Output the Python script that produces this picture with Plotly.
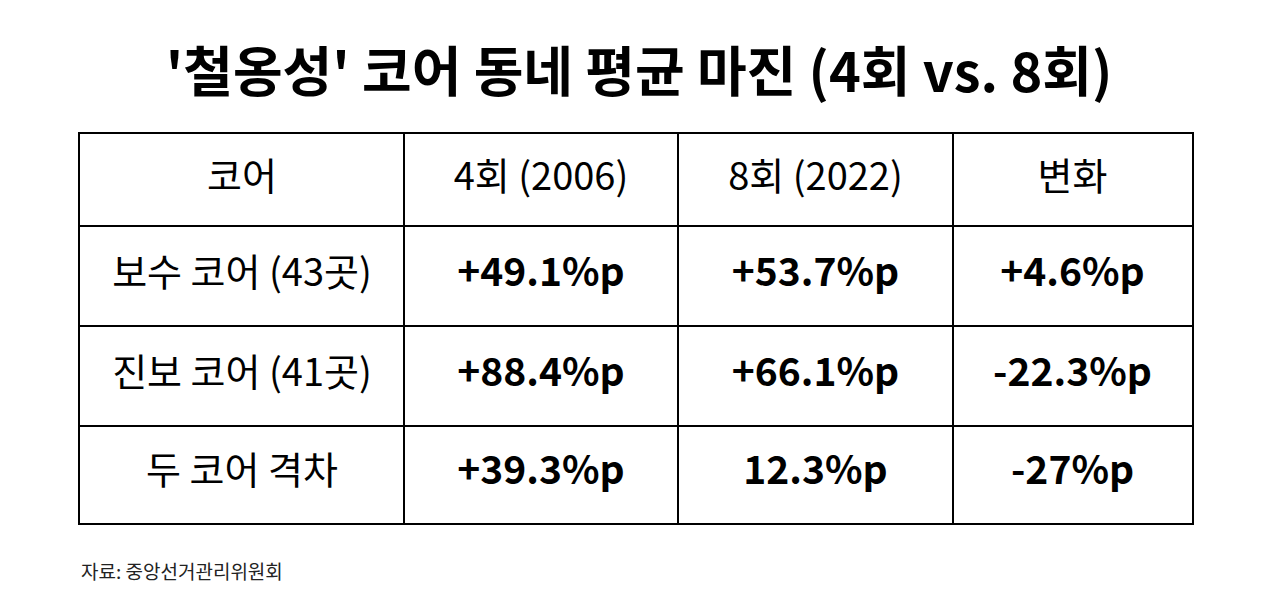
import plotly.graph_objects as go

# table contents
header = ["코어", "4회 (2006)", "8회 (2022)", "변화"]
row_labels = ["보수 코어 (43곳)", "진보 코어 (41곳)", "두 코어 격차"]
margin_2006 = ["+49.1%p", "+88.4%p", "+39.3%p"]
margin_2022 = ["+53.7%p", "+66.1%p", "12.3%p"]
change = ["+4.6%p", "-22.3%p", "-27%p"]

title = "'철옹성' 코어 동네 평균 마진 (4회 vs. 8회)"
source = "자료: 중앙선거관리위원회"

font = "Noto Sans CJK KR"

# cell geometry (layout only, in table units)
col_widths = [324, 274, 275, 239]
row_heights = [92, 100, 100, 97]   # header + 3 rows

col_edges = [0]
for w in col_widths:
    col_edges.append(col_edges[-1] + w)
row_edges = [0]
for h in row_heights:
    row_edges.append(row_edges[-1] + h)
col_mid = [(col_edges[i] + col_edges[i + 1]) / 2 for i in range(len(col_widths))]
row_mid = [(row_edges[i] + row_edges[i + 1]) / 2 for i in range(len(row_heights))]

# regular text: header row + first column
reg_x, reg_y, reg_t = [], [], []
for j, h in enumerate(header):
    reg_x.append(col_mid[j])
    reg_y.append(row_mid[0])
    reg_t.append(h)
for i, lab in enumerate(row_labels):
    reg_x.append(col_mid[0])
    reg_y.append(row_mid[i + 1])
    reg_t.append(lab)

# bold text: values
bold_x, bold_y, bold_t = [], [], []
for j, col in enumerate([margin_2006, margin_2022, change]):
    for i, v in enumerate(col):
        bold_x.append(col_mid[j + 1])
        bold_y.append(row_mid[i + 1])
        bold_t.append("<b>" + v + "</b>")

fig = go.Figure()

fig.add_trace(go.Scatter(
    x=reg_x, y=reg_y, text=reg_t,
    mode="text", textposition="middle center",
    textfont=dict(family=font, size=38, color="black"),
    hoverinfo="skip", showlegend=False
))
fig.add_trace(go.Scatter(
    x=bold_x, y=bold_y, text=bold_t,
    mode="text", textposition="middle center",
    textfont=dict(family=font, size=39, color="black"),
    hoverinfo="skip", showlegend=False
))

# the page has an 8px body margin, so positions are shifted by 8
fig.update_layout(
    width=1279,
    height=609,
    margin=dict(l=72, r=95, t=126, b=94),
    paper_bgcolor="white",
    plot_bgcolor="white",
    title=dict(
        text="<b>" + title + "</b>",
        x=631/1279,
        xanchor="center",
        y=1 - 65/609,
        yanchor="middle",
        font=dict(family=font, size=54, color="black")
    ),
    xaxis=dict(
        range=[0, col_edges[-1]],
        tickvals=col_edges[1:-1],
        showticklabels=False,
        ticks="",
        showgrid=True, gridcolor="black", gridwidth=2,
        zeroline=False,
        showline=True, linecolor="black", linewidth=2, mirror=True,
        fixedrange=True
    ),
    yaxis=dict(
        range=[row_edges[-1], 0],
        tickvals=row_edges[1:-1],
        showticklabels=False,
        ticks="",
        showgrid=True, gridcolor="black", gridwidth=2,
        zeroline=False,
        showline=True, linecolor="black", linewidth=2, mirror=True,
        fixedrange=True
    ),
    annotations=[
        dict(
            text=source,
            xref="paper", yref="paper",
            x=0, y=-47/389,
            xanchor="left", yanchor="middle",
            xshift=-1,
            showarrow=False,
            font=dict(family=font, size=19, color="#222222")
        )
    ]
)

fig.write_html("out.html", config=dict(displayModeBar=False))
